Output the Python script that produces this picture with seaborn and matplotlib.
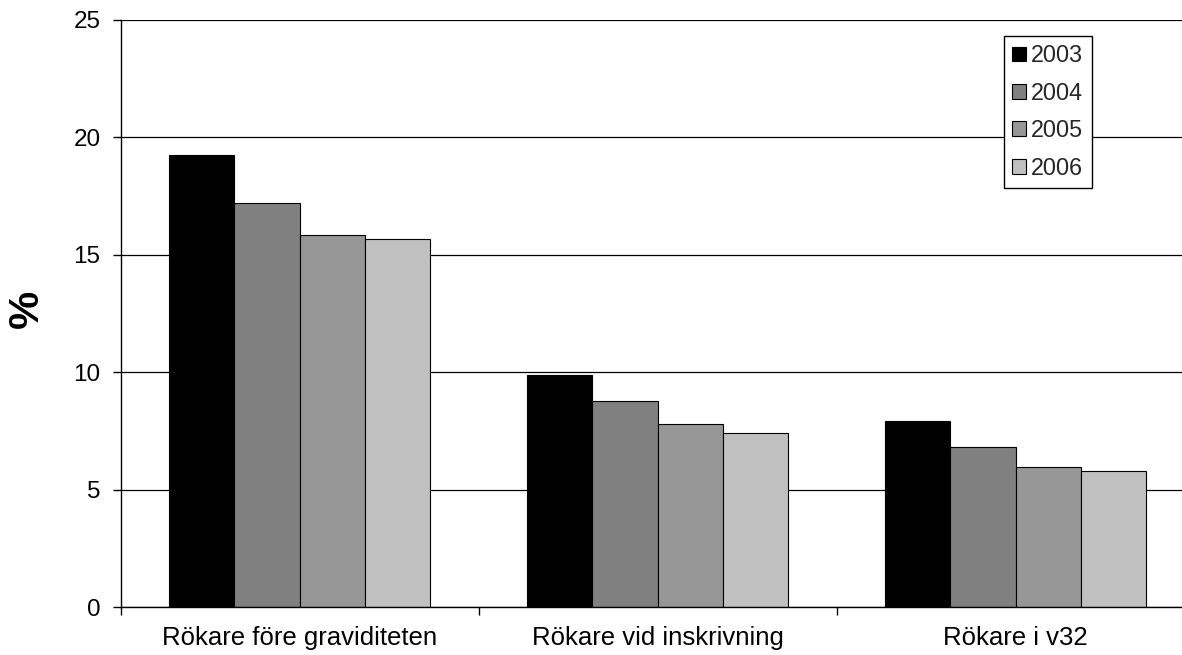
import matplotlib
matplotlib.use("Agg")
import matplotlib.pyplot as plt
import seaborn as sns
import pandas as pd

# Andel rökare (%) per tidpunkt och år
categories = ["Rökare före graviditeten", "Rökare vid inskrivning", "Rökare i v32"]
years = ["2003", "2004", "2005", "2006"]
v2003 = [19.26, 9.86, 7.91]
v2004 = [17.19, 8.77, 6.82]
v2005 = [15.85, 7.78, 5.95]
v2006 = [15.66, 7.41, 5.81]
yticks = [0, 5, 10, 15, 20, 25]
colors = ["#000000", "#808080", "#969696", "#c0c0c0"]

series = {"2003": v2003, "2004": v2004, "2005": v2005, "2006": v2006}
rows = []
for yr in years:
    for cat, val in zip(categories, series[yr]):
        rows.append({"kategori": cat, "år": yr, "andel": val})
df = pd.DataFrame(rows)

sns.set_theme(style="white")
plt.rcParams["font.family"] = ["Liberation Sans", "DejaVu Sans"]

W, H = 1182, 655
fig = plt.figure(figsize=(W / 100, H / 100), dpi=100)
ax_left, ax_right, ax_top, ax_bottom = 120.7, 1194.7, 20, 607
ax = fig.add_axes([ax_left / W, 1 - ax_bottom / H,
                   (ax_right - ax_left) / W, (ax_bottom - ax_top) / H])

sns.barplot(data=df, x="kategori", y="andel", hue="år", hue_order=years,
            order=categories, palette=colors, saturation=1, width=0.73,
            edgecolor="black", linewidth=0.8, ax=ax)

ax.set_xlim(-0.5, 2.5)
ax.set_ylim(0, 25)
ax.set_yticks(yticks)
ax.set_yticklabels([str(t) for t in yticks], fontsize=17.5, color="black")
ax.yaxis.grid(True, color="black", linewidth=0.9)
ax.set_axisbelow(True)

# kategorietiketter i mitten, streck mellan grupperna
ax.set_xticks(range(len(categories)))
ax.set_xticklabels(categories, fontsize=18.5, color="black")
ax.set_xticks([-0.5, 0.5, 1.5, 2.5], minor=True)
ax.tick_params(axis="x", which="major", length=0, pad=14)
ax.tick_params(axis="x", which="minor", length=6, width=1, color="black",
               direction="out", bottom=True)
ax.tick_params(axis="y", length=6, width=1, color="black", direction="out",
               left=True, pad=8.5)

for side in ["top", "right"]:
    ax.spines[side].set_visible(False)
for side in ["left", "bottom"]:
    ax.spines[side].set_color("black")
    ax.spines[side].set_linewidth(1.0)

ax.set_xlabel("")
ax.set_ylabel("%", fontsize=31, fontweight="bold", va="center", color="black")
ax.yaxis.set_label_coords((27 - ax_left) / (ax_right - ax_left),
                          1 - (309 - ax_top) / (ax_bottom - ax_top))

leg_x = (1004 - ax_left) / (ax_right - ax_left)
leg_y = 1 - (36 - ax_top) / (ax_bottom - ax_top)
leg = ax.legend(loc="upper left", bbox_to_anchor=(leg_x, leg_y),
                borderaxespad=0, fontsize=16.8, frameon=True, fancybox=False,
                shadow=False, handlelength=0.6, handleheight=0.6,
                handletextpad=0.22, labelspacing=0.62, borderpad=0.35,
                title=None)
leg.get_frame().set_edgecolor("black")
leg.get_frame().set_linewidth(1.0)
leg.get_frame().set_facecolor("white")
leg.get_frame().set_alpha(1)

fig.savefig("out.png", dpi=100, facecolor="white")
